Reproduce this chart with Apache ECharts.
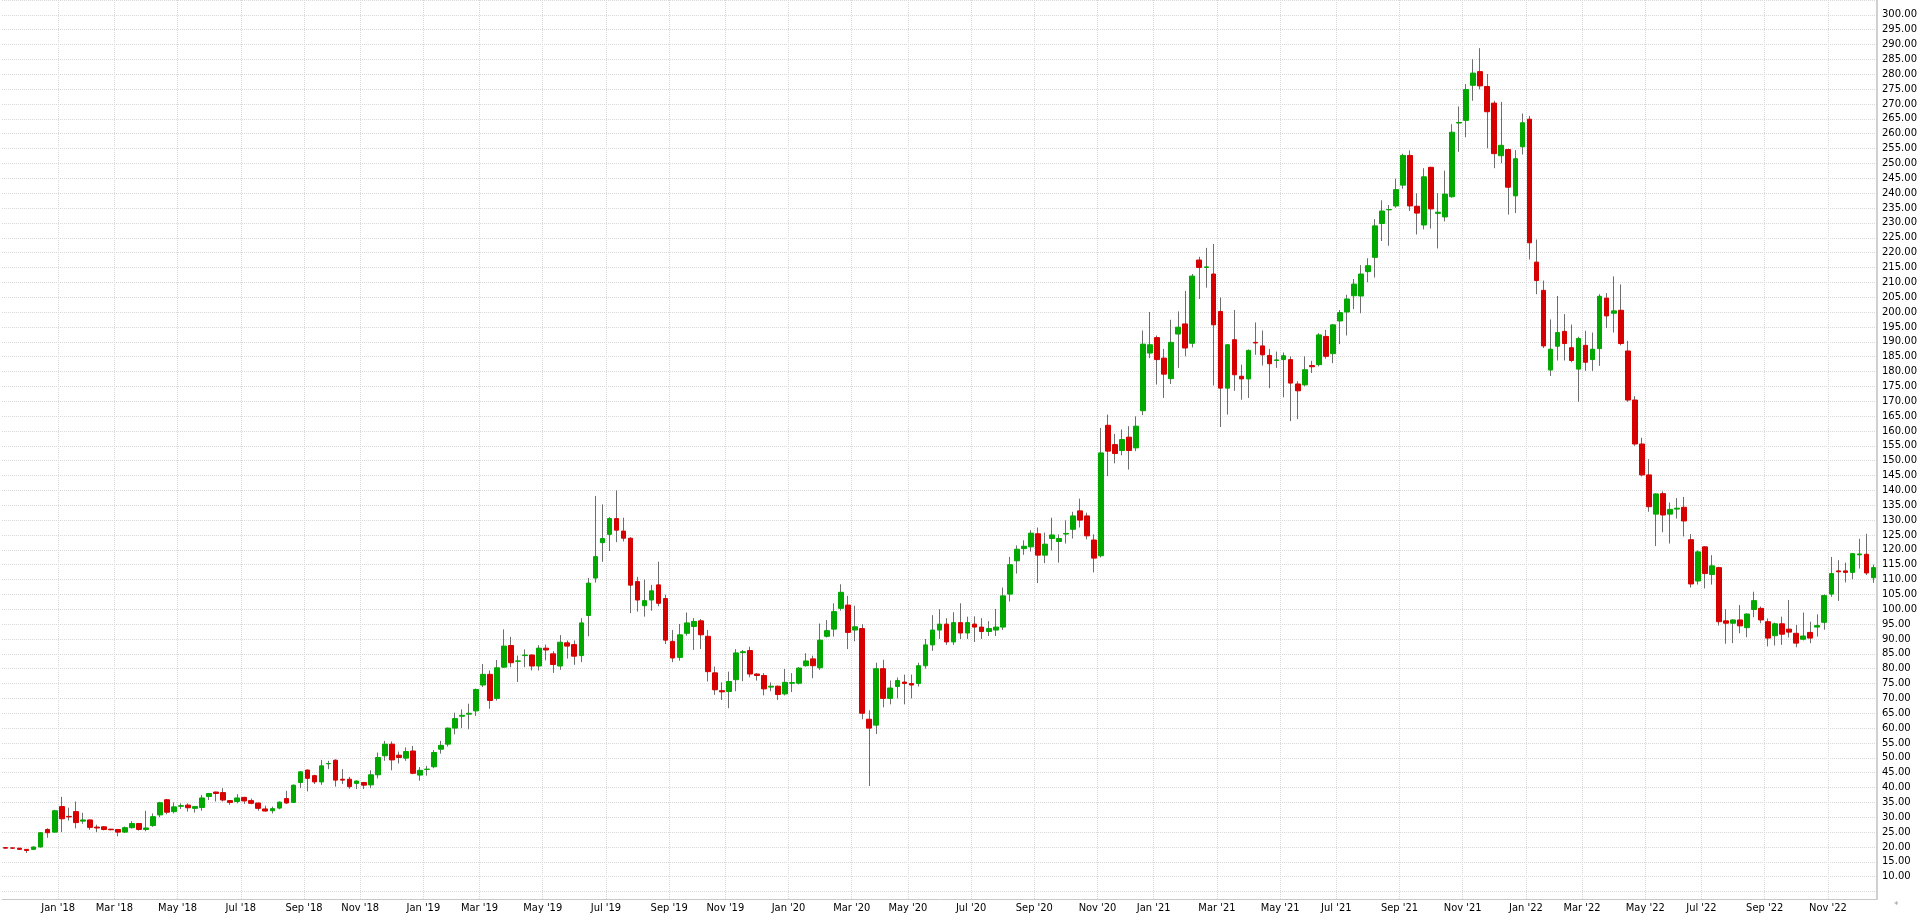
<!DOCTYPE html>
<html>
<head>
<meta charset="utf-8">
<script src="https://cdn.jsdelivr.net/npm/echarts@6/dist/echarts.min.js"></script>
<style>
html,body{margin:0;padding:0;background:#ffffff;}
#chart{width:1920px;height:914px;}
</style>
</head>
<body>
<div id="chart"></div>
<script>
// Weekly candles: first week (Friday) and OHLC arrays
const firstWeek = '2017-11-10';

const open = [
19.8,19.7,19.6,19.2,19.2,20.0,25.9,25.0,33.6,30.3,
31.9,28.7,29.1,26.7,26.8,26.0,25.9,25.0,26.5,27.9,
25.9,27.2,30.8,35.9,31.9,33.7,34.1,33.0,33.3,37.0,
38.5,38.3,35.6,35.3,36.7,35.6,34.8,32.8,32.2,33.1,
36.3,35.0,41.7,45.9,44.0,41.9,48.0,49.2,42.8,42.8,
41.4,41.7,40.9,44.3,50.7,54.6,50.9,49.9,52.3,44.2,
46.1,47.0,52.9,54.6,60.0,64.0,64.7,65.8,74.5,78.1,
70.0,80.5,87.8,82.5,84.4,84.6,80.9,86.9,85.0,80.9,
88.7,88.1,84.4,97.9,110.5,122.4,125.2,130.5,126.3,123.9,
109.3,101.2,103.1,108.2,103.6,89.2,83.8,91.9,94.2,96.1,
90.9,78.6,72.6,72.3,76.3,85.4,86.1,78.2,77.7,73.8,
74.1,71.5,75.1,75.1,81.0,83.3,80.3,90.9,93.3,100.3,
101.4,93.0,93.5,63.0,61.0,80.0,70.0,74.0,75.5,75.0,
75.0,81.0,88.0,93.0,95.0,89.0,95.5,92.0,95.0,94.0,
92.5,93.0,94.0,105.1,116.3,120.4,121.0,125.4,118.2,123.8,
122.8,125.3,126.9,133.1,131.4,123.3,118.0,161.9,155.4,153.4,
157.9,154.3,166.8,186.2,191.4,184.5,177.6,192.6,196.0,189.5,
217.5,215.0,212.8,200.2,174.4,190.7,178.4,177.5,189.8,188.6,
185.4,183.7,184.0,184.0,175.8,175.5,182.0,182.3,191.8,186.0,
197.0,200.0,205.5,205.4,213.6,218.4,229.8,234.4,235.7,242.7,
252.7,235.6,229.3,248.7,233.2,232.0,238.8,263.6,264.5,276.3,
280.9,275.9,270.3,252.6,254.7,239.1,255.6,264.9,216.8,207.3,
180.5,188.5,193.5,188.0,180.8,188.8,184.0,187.7,204.7,199.6,
200.6,186.9,170.4,155.6,145.2,132.0,138.9,132.0,133.7,134.3,
123.4,109.5,121.0,111.7,114.0,96.1,95.3,96.4,93.8,99.9,
100.3,95.8,91.1,95.1,93.3,91.9,89.9,92.2,94.0,95.6,
105.1,112.9,112.9,112.4,118.3,118.5,110.6
];

const close = [
19.6,19.6,19.2,18.8,20.0,24.8,24.8,32.2,29.5,30.1,
28.2,29.1,26.6,26.4,25.9,25.8,25.0,26.5,27.9,25.9,
26.4,30.2,34.9,31.7,33.5,33.9,33.2,33.6,36.5,38.0,
38.0,35.8,35.0,36.5,35.5,34.7,33.0,32.1,32.9,35.1,
34.8,40.8,45.3,43.1,41.9,47.3,48.1,42.5,42.5,40.3,
42.2,40.8,44.3,50.1,54.6,49.3,50.1,52.1,44.8,45.8,
46.2,51.8,54.2,60.0,63.2,64.3,65.0,73.0,78.1,69.3,
80.3,87.6,82.0,82.6,84.6,80.9,86.9,86.3,81.4,88.9,
87.6,84.2,95.4,108.8,117.7,123.8,130.5,126.6,123.9,108.1,
103.1,102.9,106.2,102.0,89.6,83.6,91.4,95.4,95.9,91.4,
79.0,72.9,72.2,75.7,85.3,85.7,78.2,77.7,73.2,74.1,
71.3,75.4,75.3,80.2,82.6,81.0,89.6,92.8,99.2,105.7,
92.2,94.1,65.0,60.0,80.0,70.0,73.5,76.0,75.0,74.5,
81.0,88.0,93.0,95.0,89.0,95.5,92.0,95.5,94.0,92.5,
93.5,94.0,104.5,115.0,120.2,121.2,125.6,118.2,121.9,125.0,
123.8,125.5,131.4,130.0,124.7,117.2,152.6,153.2,152.4,157.1,
153.4,161.6,189.2,189.0,184.0,179.1,189.8,194.9,187.9,212.1,
215.0,215.2,195.7,174.4,189.0,178.9,177.5,187.1,189.6,185.6,
182.6,183.9,185.3,176.1,173.5,180.6,181.6,192.3,185.1,195.7,
199.8,204.4,209.4,212.8,215.6,229.0,234.0,234.5,241.2,252.7,
235.7,233.3,245.5,234.7,233.6,239.7,260.5,263.8,274.9,280.4,
276.1,267.4,253.3,256.1,242.0,251.6,263.7,223.3,210.6,188.6,
187.5,193.1,189.4,183.7,191.1,183.1,187.5,205.3,198.7,200.4,
189.4,170.4,155.6,145.2,134.5,138.8,131.7,133.6,134.0,129.7,
108.5,119.3,112.0,114.6,95.8,95.3,96.4,94.4,98.4,102.9,
96.4,90.3,95.1,91.6,92.3,88.6,91.0,90.3,94.5,104.6,
112.0,112.6,112.4,118.7,118.6,112.2,114.0
];

const low = [
19.5,19.4,19.0,18.0,19.0,19.8,23.1,24.8,25.0,28.9,
26.3,27.8,25.8,25.0,25.6,25.6,23.6,24.7,26.2,25.5,
25.3,26.8,30.0,31.0,31.3,32.8,31.9,31.6,32.2,35.8,
35.3,35.3,34.2,34.7,34.5,34.4,32.2,31.9,31.3,32.7,
34.5,34.8,39.8,38.7,41.2,40.9,46.2,40.3,41.2,39.6,
39.5,39.5,39.8,43.1,49.0,45.8,48.1,49.0,44.5,42.3,
44.0,46.5,51.4,53.8,57.9,60.0,59.6,64.1,73.8,66.5,
69.3,80.3,80.5,75.5,80.5,79.4,79.4,82.8,78.6,79.6,
83.4,81.3,82.2,90.9,109.0,116.0,119.6,122.6,122.8,98.7,
99.2,97.5,99.5,101.0,88.3,82.2,82.7,91.1,86.3,86.6,
75.7,71.2,69.5,66.7,72.4,75.8,77.1,76.0,71.0,72.4,
69.5,71.0,72.1,74.7,80.7,76.8,79.6,90.5,90.8,99.5,
86.6,89.2,63.0,40.5,58.0,67.0,68.0,70.0,68.0,70.0,
74.0,80.0,86.0,90.0,88.0,88.0,90.0,90.0,89.0,90.0,
91.0,91.0,93.0,102.6,112.0,118.3,119.4,108.8,115.5,119.8,
115.7,122.1,123.8,127.5,123.5,112.4,117.4,144.8,149.1,151.8,
147.0,153.2,165.3,184.5,175.6,171.1,175.8,181.2,185.1,188.1,
204.4,208.2,175.3,161.3,165.5,173.5,170.5,171.1,185.6,182.0,
174.4,181.2,171.3,163.3,164.0,175.0,179.5,181.7,184.3,182.8,
189.2,192.1,201.0,199.6,210.0,211.6,223.9,222.3,235.1,241.5,
234.0,226.1,227.8,228.1,221.4,230.5,238.5,253.9,258.8,271.1,
274.9,255.1,248.4,250.1,232.8,233.3,253.0,217.7,206.0,187.9,
178.5,183.7,183.7,183.1,169.8,180.2,180.2,181.9,194.6,193.1,
188.8,169.8,155.0,144.7,132.8,121.3,125.9,122.1,130.5,124.5,
107.3,108.3,107.0,108.3,94.5,88.4,88.6,91.9,90.6,97.3,
95.3,87.5,87.8,88.0,90.5,87.2,89.5,88.6,90.8,93.1,
104.2,102.8,109.0,110.1,113.7,111.5,108.9
];

const high = [
19.9,19.8,19.7,19.3,20.2,25.0,26.3,32.5,36.9,33.2,
35.3,31.5,29.2,27.5,27.0,26.1,26.0,26.9,28.7,28.0,
32.2,31.3,35.2,36.2,35.0,34.7,34.7,33.8,37.5,38.2,
38.6,39.8,35.8,37.8,36.9,36.3,35.0,33.9,33.6,35.3,
38.9,41.0,45.5,46.0,44.3,49.3,49.0,49.5,46.2,43.6,
42.4,41.9,45.8,51.8,55.7,55.5,52.1,53.5,54.0,46.9,
47.3,52.6,55.7,60.2,65.2,66.3,68.2,73.3,81.6,79.4,
82.9,93.2,90.7,84.4,86.5,84.8,87.9,88.1,85.9,91.3,
89.5,89.5,97.0,110.5,138.1,135.3,131.0,140.0,130.8,124.2,
110.9,110.0,108.2,116.0,104.9,93.0,95.0,98.9,97.0,96.7,
93.0,80.7,75.4,79.0,86.6,86.3,87.4,78.5,78.5,75.4,
74.3,79.9,78.5,80.5,85.2,84.4,95.2,96.4,102.0,108.4,
104.5,101.2,95.0,66.0,82.0,83.0,76.0,77.0,78.0,78.0,
82.0,90.0,98.0,100.0,97.0,99.0,102.0,97.5,97.6,97.0,
96.0,100.1,107.3,117.6,121.5,123.2,126.6,127.5,125.8,130.8,
125.2,129.9,132.8,137.2,132.5,125.2,161.0,165.5,159.0,160.5,
161.6,164.9,193.8,200.0,192.1,187.6,197.4,200.2,207.1,212.8,
218.6,221.6,222.9,204.9,189.2,200.7,182.3,187.4,196.5,193.8,
187.6,186.7,186.4,185.1,176.7,185.1,183.6,192.9,194.0,196.0,
200.7,205.8,211.1,215.8,218.1,231.3,237.6,236.0,244.9,253.3,
254.4,240.0,248.4,248.9,240.0,247.6,263.2,269.2,276.7,285.1,
288.8,280.1,271.1,270.7,255.0,254.5,266.8,266.0,224.4,210.6,
197.5,205.4,199.3,195.8,191.7,193.7,193.1,206.0,206.4,212.0,
209.3,190.3,171.7,157.7,150.5,139.0,139.7,135.9,137.4,137.8,
125.3,119.8,121.2,118.2,114.3,100.0,96.6,101.4,98.6,105.9,
100.9,96.9,95.5,97.5,103.1,94.7,98.9,95.8,98.3,105.0,
117.6,116.5,115.7,118.9,123.7,125.4,115.0
];

const monthNames = ['Jan','Feb','Mar','Apr','May','Jun','Jul','Aug','Sep','Oct','Nov','Dec'];

// weekly category dates
const categories = [];
(function () {
  const t0 = Date.UTC(+firstWeek.slice(0,4), +firstWeek.slice(5,7) - 1, +firstWeek.slice(8,10));
  for (let i = 0; i < open.length; i++) {
    const d = new Date(t0 + i * 7 * 86400000);
    categories.push(d.getUTCFullYear() + '-' + String(d.getUTCMonth() + 1).padStart(2, '0') + '-' + String(d.getUTCDate()).padStart(2, '0'));
  }
})();

function monthOf(s) { return +s.slice(5, 7) - 1; }
function isLabelWeek(index) {
  if (index <= 0) return false;
  const m = monthOf(categories[index]);
  return m !== monthOf(categories[index - 1]) && m % 2 === 0;
}

const wickData = open.map((o, i) => [o, close[i], Math.min(low[i], o, close[i]), Math.max(high[i], o, close[i])]);
const bodyData = open.map((o, i) => [o, close[i], Math.min(o, close[i]), Math.max(o, close[i])]);

const GREEN = '#00a800';
const RED = '#d60000';
const WICK = '#6e6e6e';

const chart = echarts.init(document.getElementById('chart'), null, { renderer: 'canvas' });
chart.setOption({
  animation: false,
  backgroundColor: '#ffffff',
  grid: { left: 2, right: 39, top: -2.45, bottom: 15, containLabel: false },
  xAxis: {
    type: 'category',
    data: categories,
    boundaryGap: true,
    axisLine: { show: true, lineStyle: { color: '#c8c8c8', width: 1 } },
    axisTick: { show: false },
    axisLabel: {
      interval: function (index) { return isLabelWeek(index); },
      formatter: function (v) { return monthNames[monthOf(v)] + " '" + v.slice(2, 4); },
      fontFamily: 'DejaVu Sans Condensed, DejaVu Sans, sans-serif',
      fontSize: 11,
      color: '#000000',
      margin: 4,
      padding: [0, 7, 0, 0]
    },
    splitLine: {
      show: true,
      interval: function (index) { return isLabelWeek(index); },
      lineStyle: { color: '#d9d9d9', type: 'dotted', width: 1 }
    }
  },
  yAxis: {
    type: 'value',
    position: 'right',
    min: 2.5,
    max: 305,
    interval: 2.5,
    axisLine: { show: true, lineStyle: { color: '#d0d0d0', width: 2 } },
    axisTick: { show: false },
    axisLabel: {
      formatter: function (v) {
        const r = Math.round(v / 5) * 5;
        if (Math.abs(v - r) > 1e-6 || v < 10 || v > 300) return '';
        return v.toFixed(2);
      },
      fontFamily: 'DejaVu Sans, Verdana, sans-serif',
      fontSize: 10,
      color: '#000000',
      margin: 5
    },
    splitLine: {
      show: true,
      lineStyle: { color: ['rgba(0,0,0,0)', '#d9d9d9'], type: 'dotted', width: 1 }
    }
  },
  series: [
    {
      name: 'range',
      type: 'candlestick',
      data: wickData,
      barWidth: 1,
      itemStyle: { color: WICK, color0: WICK, borderColor: WICK, borderColor0: WICK, borderWidth: 1 },
      silent: true
    },
    {
      name: 'body',
      type: 'candlestick',
      data: bodyData,
      barWidth: 5.2,
      itemStyle: { color: GREEN, color0: RED, borderColor: GREEN, borderColor0: RED, borderWidth: 1 },
      silent: true
    }
  ],
  graphic: [
    { type: 'text', left: 1894, top: 901, style: { text: '*', fill: '#999', font: '9px DejaVu Sans' } }
  ]
});
</script>
</body>
</html>
